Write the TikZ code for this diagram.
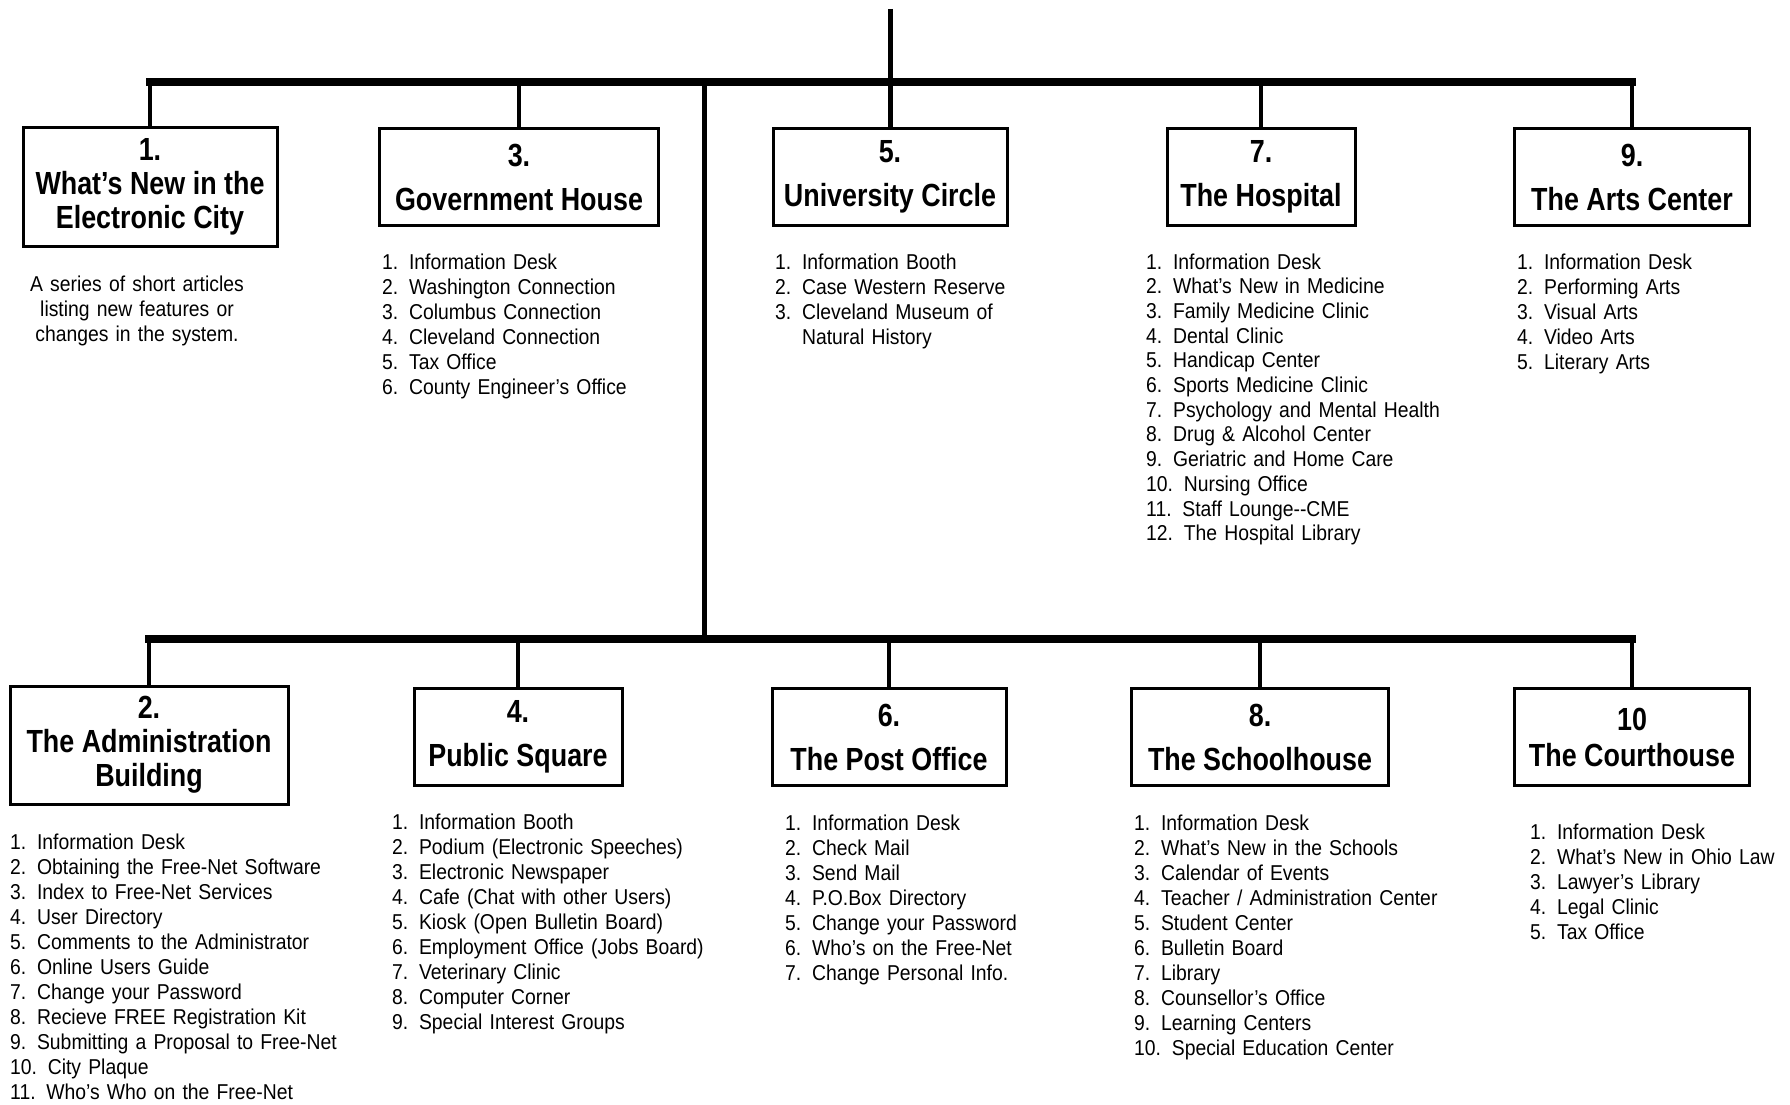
\documentclass[tikz,border=0pt]{standalone}
\usepackage{fontspec}
\setmainfont{Liberation Sans}
\newfontfamily\titlefont{Liberation Sans}[Ligatures=TeX,FakeStretch=0.84]
\newfontfamily\listfont{Liberation Sans}[Ligatures=TeX,FakeStretch=0.9]
\tikzset{
  roombox/.style={rectangle,draw=black,line width=3pt,align=center,inner sep=0pt,minimum height=97pt,font=\titlefont\bfseries\fontsize{32}{44}\selectfont},
  tallbox/.style={roombox,minimum height=118pt,font=\titlefont\bfseries\fontsize{32}{34}\selectfont},
  itemlist/.style={anchor=base west,inner sep=0pt,text width=360pt,align=left,font=\listfont\fontsize{21.5}{25}\selectfont},
  busline/.style={line width=8pt,line cap=rect},
  dropline/.style={line width=4pt},
  trunkline/.style={line width=5pt}
}
\newcommand{\itm}[1]{#1.\enspace}

\begin{document}
\begin{tikzpicture}[x=1pt,y=-1pt]
  \useasboundingbox (0,0) rectangle (1790,1105);

  \node[tallbox,minimum width=254pt] (whatsnew) at (150,187) {1.\\What's New in the\\Electronic City};
  \node[roombox,minimum width=279pt] (govt) at (519,177) {3.\\Government House};
  \node[roombox,minimum width=234pt] (univ) at (890,177) {5.\\University Circle};
  \node[roombox,minimum width=188pt] (hosp) at (1261,177) {7.\\The Hospital};
  \node[roombox,minimum width=235pt] (arts) at (1632,177) {9.\\The Arts Center};

  \node[tallbox,minimum width=278pt] (admin) at (149,745) {2.\\The Administration\\Building};
  \node[roombox,minimum width=208pt] (pubsq) at (518,737) {4.\\Public Square};
  \node[roombox,minimum width=234pt] (post) at (889,737) {6.\\The Post Office};
  \node[roombox,minimum width=257pt] (school) at (1260,737) {8.\\The Schoolhouse};
  \node[roombox,minimum width=235pt,font=\titlefont\bfseries\fontsize{32}{36}\selectfont] (court) at (1632,737) {10\\The Courthouse};

  \node[itemlist,anchor=base,text width=260pt,align=center] (whatsnewtxt) at (137,291)
    {A series of short articles\\listing new features or\\changes in the system.};
  \node[itemlist] (govtlist) at (382,269)
    {\itm1Information Desk\\\itm2Washington Connection\\\itm3Columbus Connection\\\itm4Cleveland Connection\\\itm5Tax Office\\\itm6County Engineer's Office};
  \node[itemlist] (univlist) at (775,269)
    {\itm1Information Booth\\\itm2Case Western Reserve\\\itm3Cleveland Museum of\\\phantom{\itm3}Natural History};
  \node[itemlist,font=\listfont\fontsize{21.5}{24.7}\selectfont] (hosplist) at (1146,269)
    {\itm1Information Desk\\\itm2What's New in Medicine\\\itm3Family Medicine Clinic\\\itm4Dental Clinic\\\itm5Handicap Center\\\itm6Sports Medicine Clinic\\\itm7Psychology and Mental Health\\\itm8Drug \& Alcohol Center\\\itm9Geriatric and Home Care\\\itm{10}Nursing Office\\\itm{11}Staff Lounge-{}-CME\\\itm{12}The Hospital Library};
  \node[itemlist] (artslist) at (1517,269)
    {\itm1Information Desk\\\itm2Performing Arts\\\itm3Visual Arts\\\itm4Video Arts\\\itm5Literary Arts};

  \node[itemlist] (adminlist) at (10,849)
    {\itm1Information Desk\\\itm2Obtaining the Free-Net Software\\\itm3Index to Free-Net Services\\\itm4User Directory\\\itm5Comments to the Administrator\\\itm6Online Users Guide\\\itm7Change your Password\\\itm8Recieve FREE Registration Kit\\\itm9Submitting a Proposal to Free-Net\\\itm{10}City Plaque\\\itm{11}Who's Who on the Free-Net};
  \node[itemlist] (pubsqlist) at (392,829)
    {\itm1Information Booth\\\itm2Podium (Electronic Speeches)\\\itm3Electronic Newspaper\\\itm4Cafe (Chat with other Users)\\\itm5Kiosk (Open Bulletin Board)\\\itm6Employment Office (Jobs Board)\\\itm7Veterinary Clinic\\\itm8Computer Corner\\\itm9Special Interest Groups};
  \node[itemlist] (postlist) at (785,830)
    {\itm1Information Desk\\\itm2Check Mail\\\itm3Send Mail\\\itm4P.O.Box Directory\\\itm5Change your Password\\\itm6Who's on the Free-Net\\\itm7Change Personal Info.};
  \node[itemlist] (schoollist) at (1134,830)
    {\itm1Information Desk\\\itm2What's New in the Schools\\\itm3Calendar of Events\\\itm4Teacher / Administration Center\\\itm5Student Center\\\itm6Bulletin Board\\\itm7Library\\\itm8Counsellor's Office\\\itm9Learning Centers\\\itm{10}Special Education Center};
  \node[itemlist] (courtlist) at (1530,839)
    {\itm1Information Desk\\\itm2What's New in Ohio Law\\\itm3Lawyer's Library\\\itm4Legal Clinic\\\itm5Tax Office};

  \coordinate (feed) at (890,9);
  \coordinate (topbus) at (0,82);
  \coordinate (lowbus) at (0,639);
  \coordinate (trunk) at (704,82);
  \draw[trunkline] (feed) -- (univ.north);
  \draw[busline] (whatsnew.north |- topbus) -- (arts.north |- topbus);
  \foreach \b in {whatsnew,govt,hosp,arts}
    \draw[dropline] (\b.north |- topbus) -- (\b.north);
  \draw[trunkline] (trunk) -- (trunk |- lowbus);
  \draw[busline] (admin.north |- lowbus) -- (court.north |- lowbus);
  \foreach \b in {admin,pubsq,post,school,court}
    \draw[dropline] (\b.north |- lowbus) -- (\b.north);
\end{tikzpicture}
\end{document}
